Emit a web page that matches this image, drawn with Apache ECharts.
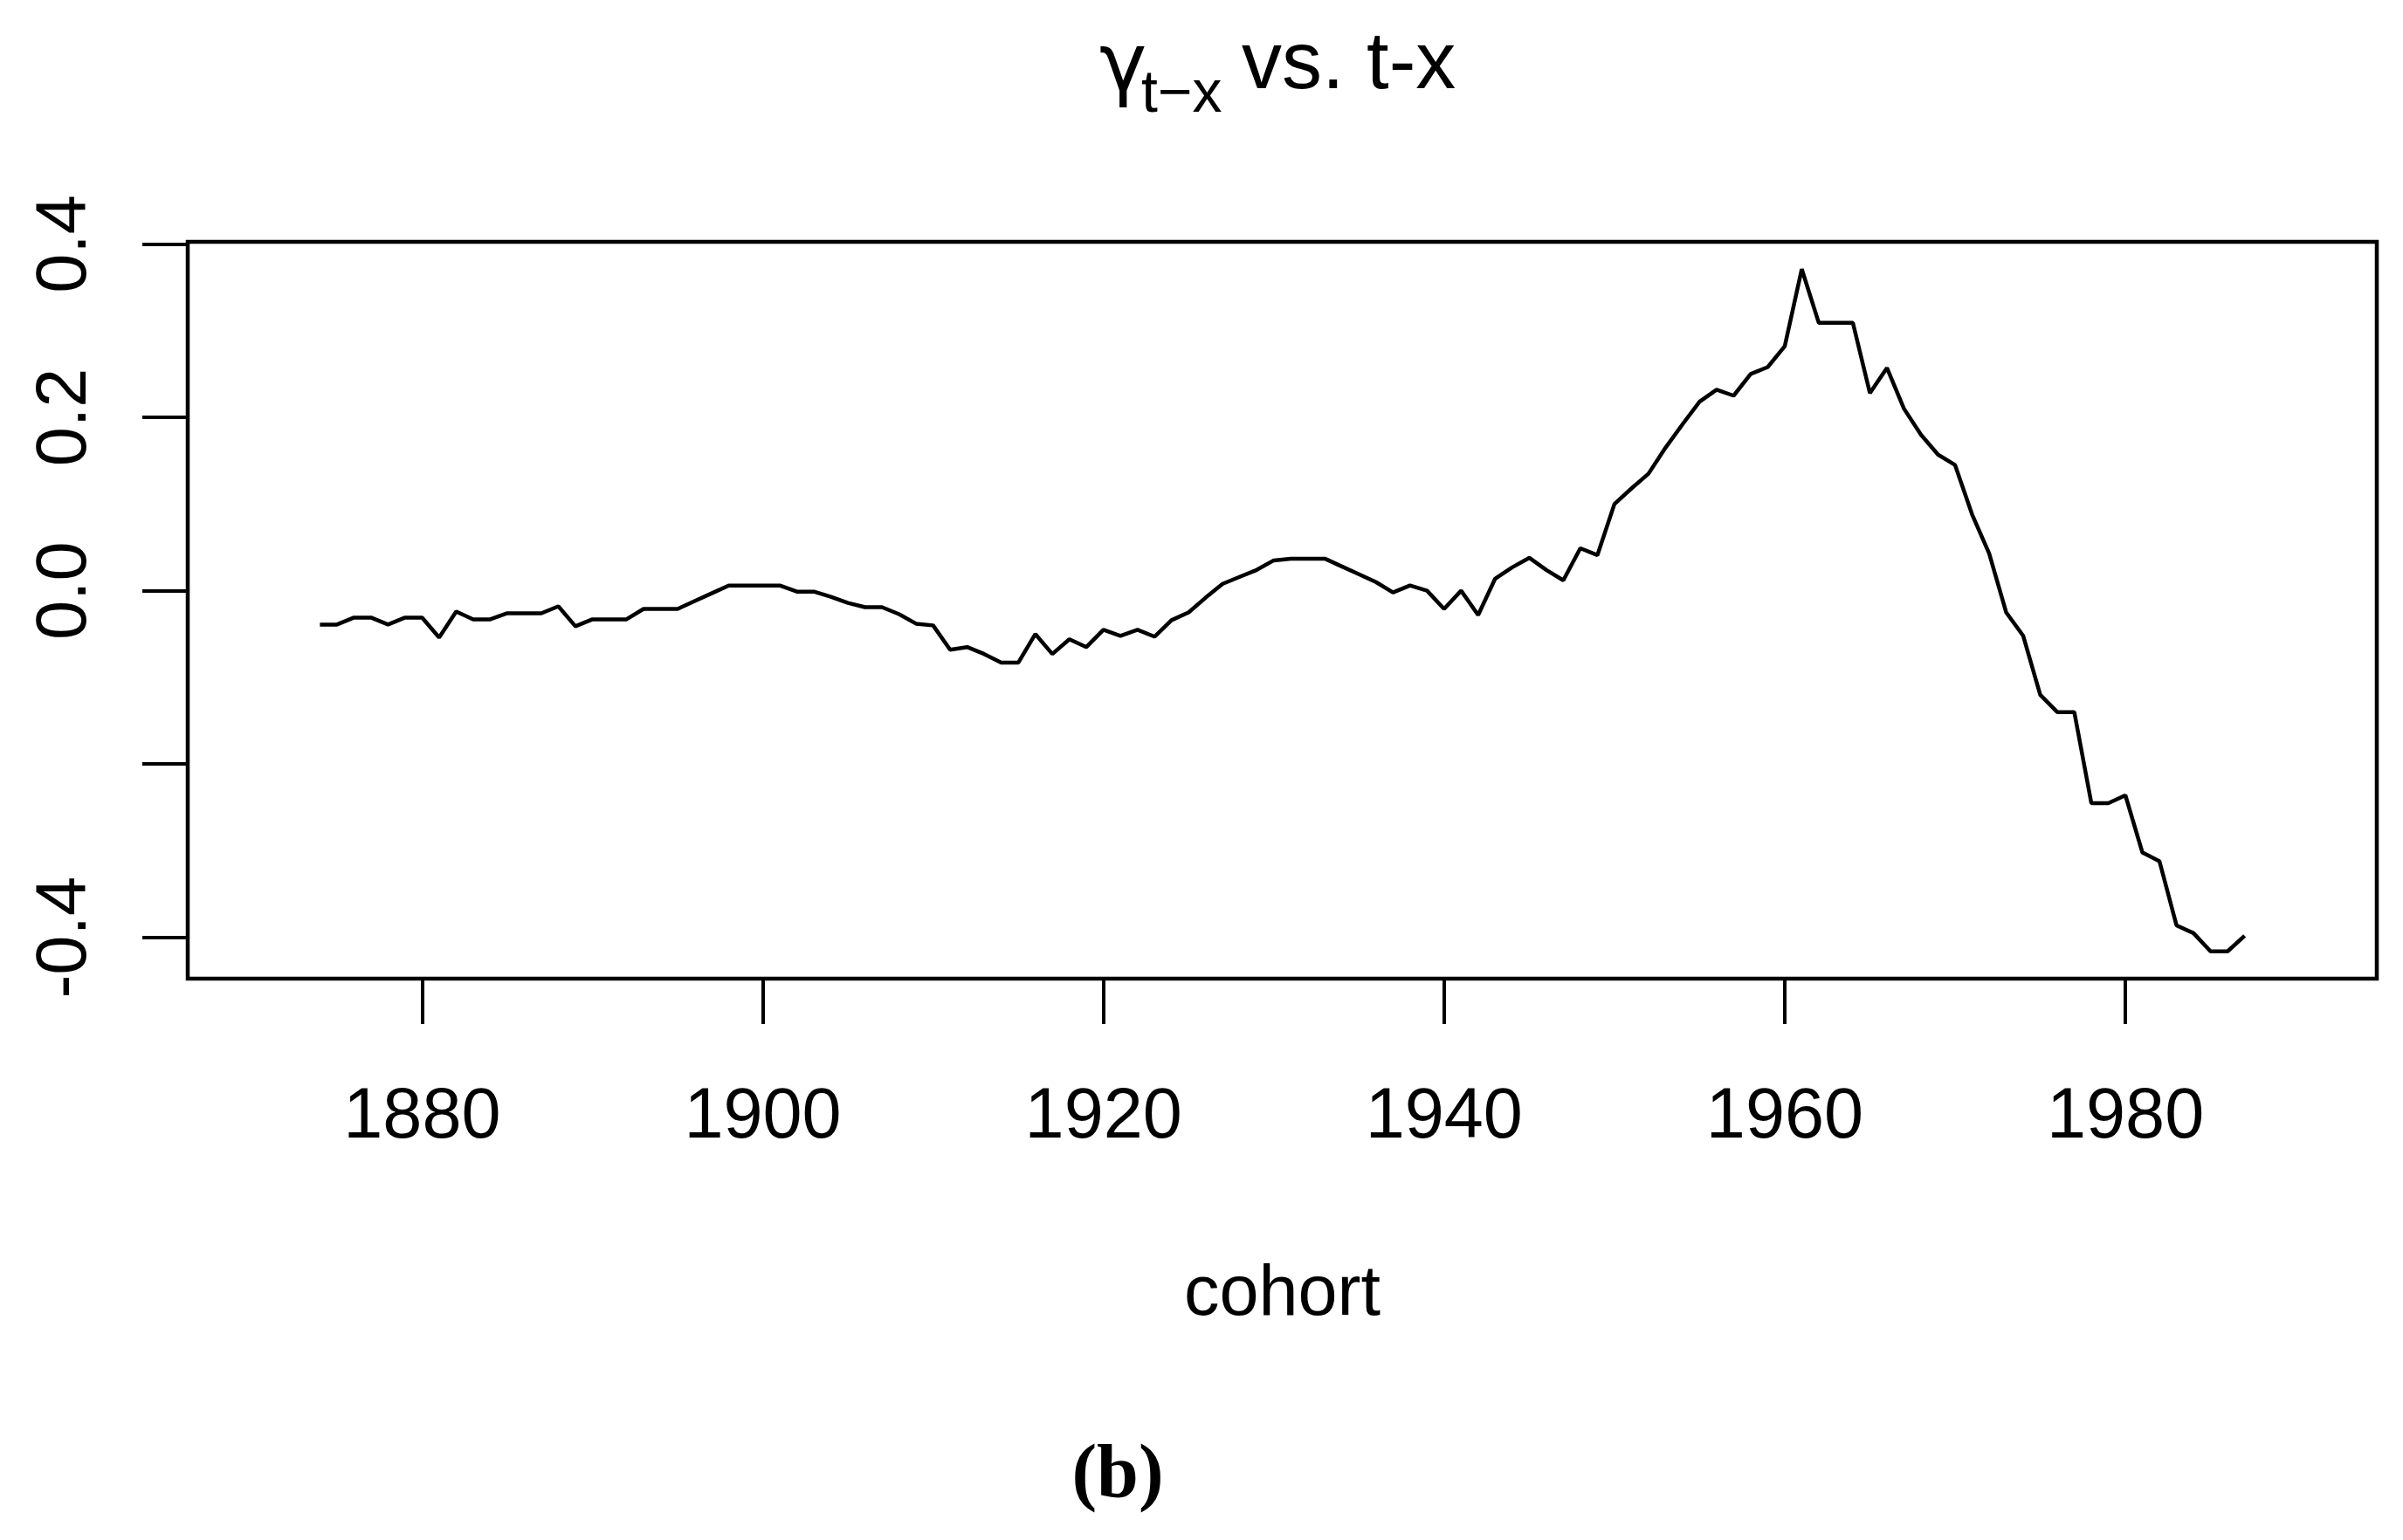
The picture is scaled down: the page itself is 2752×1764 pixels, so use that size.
<!DOCTYPE html>
<html>
<head>
<meta charset="utf-8">
<script src="https://cdn.jsdelivr.net/npm/echarts@6/dist/echarts.min.js"></script>
<style>
html,body{margin:0;padding:0;background:#fff;}
#chart{width:2752px;height:1764px;}
</style>
</head>
<body>
<div id="chart"></div>
<script>
const cohortYears = [1874,1875,1876,1877,1878,1879,1880,1881,1882,1883,1884,1885,1886,1887,1888,1889,
  1890,1891,1892,1893,1894,1895,1896,1897,1898,1899,1900,1901,1902,1903,1904,1905,1906,1907,1908,1909,
  1910,1911,1912,1913,1914,1915,1916,1917,1918,1919,1920,1921,1922,1923,1924,1925,1926,1927,1928,1929,
  1930,1931,1932,1933,1934,1935,1936,1937,1938,1939,1940,1941,1942,1943,1944,1945,1946,1947,1948,1949,
  1950,1951,1952,1953,1954,1955,1956,1957,1958,1959,1960,1961,1962,1963,1964,1965,1966,1967,1968,1969,
  1970,1971,1972,1973,1974,1975,1976,1977,1978,1979,1980,1981,1982,1983,1984,1985,1986,1987];

const gammaValues = [-0.039,-0.039,-0.031,-0.031,-0.039,-0.031,-0.031,-0.054,-0.024,-0.033,-0.033,-0.026,-0.026,-0.026,-0.018,-0.041,
  -0.033,-0.033,-0.033,-0.021,-0.021,-0.021,-0.012,-0.003,0.006,0.006,0.006,0.006,-0.001,-0.001,-0.007,-0.014,-0.019,-0.019,-0.027,-0.038,
  -0.040,-0.068,-0.065,-0.073,-0.083,-0.083,-0.050,-0.073,-0.056,-0.065,-0.045,-0.052,-0.045,-0.053,-0.034,-0.025,-0.008,0.008,0.016,0.024,
  0.035,0.037,0.037,0.037,0.028,0.019,0.010,-0.002,0.006,0.000,-0.021,0.000,-0.028,0.014,0.027,0.038,0.024,0.012,0.049,0.041,
  0.100,0.118,0.135,0.165,0.192,0.218,0.232,0.225,0.250,0.258,0.282,0.371,0.309,0.309,0.309,0.228,0.257,0.210,0.180,0.157,
  0.145,0.088,0.043,-0.025,-0.052,-0.120,-0.140,-0.140,-0.245,-0.245,-0.236,-0.302,-0.312,-0.386,-0.395,-0.416,-0.416,-0.398];

const xTickValues = [1880,1900,1920,1940,1960,1980];
const yTickValues = [-0.4,-0.2,0,0.2,0.4];
const yLabelValues = [-0.4,0,0.2,0.4];

const FONT = "'Liberation Sans', Arial, sans-serif";
const chart = echarts.init(document.getElementById('chart'), null, {renderer:'canvas'});

chart.setOption({
  animation:false,
  backgroundColor:'#ffffff',
  grid:{
    left:215, top:277, right:30, bottom:643,
    show:true, borderColor:'#000', borderWidth:4.5, backgroundColor:'transparent',
    containLabel:false, outerBoundsMode:'none'
  },
  xAxis:{
    type:'value', min:1866.24, max:1994.76,
    axisLine:{show:false, onZero:false},
    splitLine:{show:false},
    axisTick:{show:true, customValues:xTickValues, length:52, inside:false, lineStyle:{color:'#000', width:4}},
    axisLabel:{customValues:xTickValues, margin:119, fontSize:81, fontFamily:FONT, color:'#000',
      formatter:(v)=>String(v)},
    name:'cohort', nameLocation:'middle', nameGap:322,
    nameTextStyle:{fontSize:81, fontFamily:FONT, color:'#000'}
  },
  yAxis:{
    type:'value', min:-0.4475, max:0.4025,
    axisLine:{show:false, onZero:false},
    splitLine:{show:false},
    axisTick:{show:true, customValues:yTickValues, length:52, inside:false, lineStyle:{color:'#000', width:4}},
    axisLabel:{customValues:yLabelValues, rotate:90, margin:99, fontSize:81, fontFamily:FONT, color:'#000',
      formatter:(v)=>v.toFixed(1)}
  },
  graphic:[
    {type:'text', x:1259, y:80, style:{text:'γ', fontSize:92, fontFamily:"'DejaVu Sans', sans-serif", fill:'#000', align:'left', verticalAlign:'middle'}},
    {type:'text', x:1307, y:109, style:{text:'t−x', fontSize:68, fontFamily:FONT, fill:'#000', align:'left', verticalAlign:'middle'}},
    {type:'text', x:1422, y:76, style:{text:'vs. t-x', fontSize:92, fontFamily:FONT, fill:'#000', align:'left', verticalAlign:'middle'}},
    {type:'text', x:1280, y:1692, style:{text:'(b)', fontSize:86, fontWeight:'bold', fontFamily:"'Liberation Serif', 'Times New Roman', serif", fill:'#000', align:'center', verticalAlign:'middle'}}
  ],
  series:[{
    type:'line',
    data:cohortYears.map((y,i)=>[y, gammaValues[i]]),
    showSymbol:false,
    lineStyle:{color:'#000', width:4.5},
    smooth:false,
    z:5
  }]
});
</script>
</body>
</html>
